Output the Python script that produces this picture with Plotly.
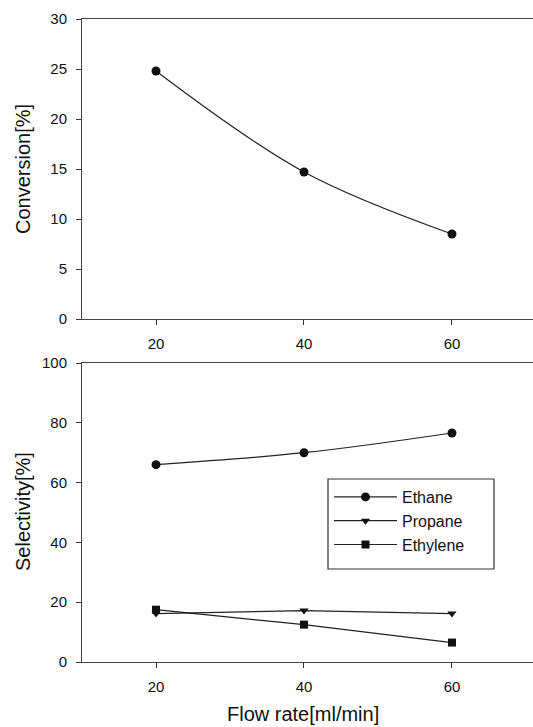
import plotly.graph_objects as go
from plotly.subplots import make_subplots

flow_rate = [20, 40, 60]
conversion = [24.8, 14.7, 8.5]
ethane = [66.0, 70.0, 76.6]
propane = [16.2, 17.2, 16.2]
ethylene = [17.5, 12.5, 6.5]

FONT = "Liberation Sans, Arial, sans-serif"
INK = "#111111"

fig = make_subplots(rows=2, cols=1, shared_xaxes=False, vertical_spacing=0.0)

fig.add_trace(go.Scatter(x=flow_rate, y=conversion, mode="lines+markers",
                         line=dict(color="#222222", width=1.2, shape="spline"),
                         marker=dict(symbol="circle", size=9, color=INK),
                         showlegend=False), row=1, col=1)

fig.add_trace(go.Scatter(x=flow_rate, y=ethane, name="Ethane", mode="lines+markers",
                         line=dict(color="#222222", width=1.2, shape="spline"),
                         marker=dict(symbol="circle", size=9, color=INK)), row=2, col=1)
fig.add_trace(go.Scatter(x=flow_rate, y=propane, name="Propane", mode="lines+markers",
                         line=dict(color="#222222", width=1.2),
                         marker=dict(symbol="triangle-down", size=8, color=INK)), row=2, col=1)
fig.add_trace(go.Scatter(x=flow_rate, y=ethylene, name="Ethylene", mode="lines+markers",
                         line=dict(color="#222222", width=1.2),
                         marker=dict(symbol="square", size=8, color=INK)), row=2, col=1)

W, H = 533, 727
L, R, T, B = 82, 0, 19, 65
ph = H - T - B


def frac(ypx):
    return (H - B - ypx) / ph


xcommon = dict(range=[10, 70.95], tickvals=[20, 40, 60], ticks="outside", ticklen=5,
               tickcolor="#333333", showline=True, linecolor="#444444", linewidth=1,
               mirror=True, showgrid=False, zeroline=False,
               tickfont=dict(family=FONT, size=15, color=INK), ticklabelstandoff=6)
ycommon = dict(ticks="outside", ticklen=5, tickcolor="#333333", showline=True,
               linecolor="#444444", linewidth=1, showgrid=False, zeroline=False,
               tickfont=dict(family=FONT, size=15, color=INK), ticklabelstandoff=6)

fig.update_xaxes(**xcommon, domain=[0, 1])
fig.update_yaxes(**ycommon)
fig.update_yaxes(range=[0, 30], dtick=5, domain=[frac(319), frac(19)], row=1, col=1)
fig.update_yaxes(range=[0, 100], dtick=20, domain=[frac(662), frac(363)], row=2, col=1)

annotations = [
    dict(text="Conversion[%]", x=(23 - L) / (W - L), y=frac(169), textangle=-90),
    dict(text="Selectivity[%]", x=(23 - L) / (W - L), y=frac(512), textangle=-90),
    dict(text="Flow rate[ml/min]", x=(303 - L) / (W - L), y=frac(714), textangle=0),
]
for a in annotations:
    fig.add_annotation(xref="paper", yref="paper", showarrow=False,
                       xanchor="center", yanchor="middle",
                       font=dict(family=FONT, size=20, color=INK), **a)

# legend frame
fig.add_shape(type="rect", xref="paper", yref="paper",
              x0=(328 - L) / (W - L), x1=(494 - L) / (W - L),
              y0=frac(569), y1=frac(479),
              line=dict(color="#333333", width=1.2), fillcolor="rgba(0,0,0,0)")

fig.update_layout(
    width=W, height=H,
    margin=dict(l=L, r=R, t=T, b=B),
    paper_bgcolor="white", plot_bgcolor="white",
    font=dict(family=FONT, color=INK),
    showlegend=True,
    legend=dict(x=(329 - L) / (W - L), y=frac(480), xanchor="left", yanchor="top",
                bgcolor="rgba(0,0,0,0)", borderwidth=0,
                font=dict(family=FONT, size=16, color=INK),
                itemwidth=63, tracegroupgap=0),
)

fig.write_html("out.html", config={"displayModeBar": False},
               post_script="document.body.style.margin='0';document.body.style.overflow='hidden';")
